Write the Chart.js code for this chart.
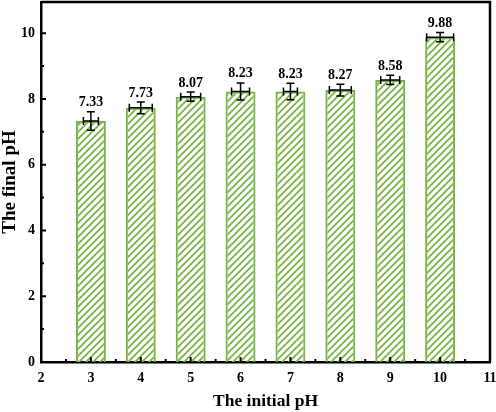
<!DOCTYPE html>
<html>
<head>
<meta charset="utf-8">
<script src="https://cdn.jsdelivr.net/npm/chart.js@4.4.1/dist/chart.umd.min.js"></script>
<style>
  html, body { margin: 0; padding: 0; background: #fff; }
</style>
</head>
<body>
<canvas id="chart" width="496" height="412"></canvas>
<script>
const initialPH = [3, 4, 5, 6, 7, 8, 9, 10];
const finalPH = [7.33, 7.73, 8.07, 8.23, 8.23, 8.27, 8.58, 9.88];
const finalErr = [0.28, 0.18, 0.14, 0.26, 0.25, 0.18, 0.14, 0.14];
const initialErr = [0.15, 0.23, 0.2, 0.18, 0.14, 0.22, 0.19, 0.27];
const xMajor = [3, 4, 5, 6, 7, 8, 9, 10];
const xMinor = [2.5, 3.5, 4.5, 5.5, 6.5, 7.5, 8.5, 9.5, 10.5];
const yMajor = [2, 4, 6, 8, 10];
const yMinor = [1, 3, 5, 7, 9];

const green = '#78b446';
const font = 'Liberation Serif';

// diagonal hatch fill for the bars
function hatch() {
  const c = document.createElement('canvas');
  c.width = 7; c.height = 7;
  const g = c.getContext('2d');
  g.strokeStyle = green;
  g.lineWidth = 1.8;
  g.beginPath();
  g.moveTo(0, 7); g.lineTo(7, 0);
  g.moveTo(-1, 1); g.lineTo(1, -1);
  g.moveTo(6, 8); g.lineTo(8, 6);
  g.stroke();
  return g.createPattern(c, 'repeat');
}

// frame, inward ticks, error bars and value labels
const extras = {
  id: 'extras',
  afterDatasetsDraw(chart) {
    const { ctx, chartArea: a, scales: { x, y } } = chart;
    ctx.save();
    ctx.strokeStyle = '#000';
    ctx.lineWidth = 1.5;
    ctx.fillStyle = '#000';
    ctx.font = 'bold 14px "' + font + '"';
    ctx.textAlign = 'center';
    ctx.textBaseline = 'bottom';
    initialPH.forEach((v, i) => {
      const cx = x.getPixelForValue(v);
      const cy = y.getPixelForValue(finalPH[i]);
      const top = y.getPixelForValue(finalPH[i] + finalErr[i]);
      const bot = y.getPixelForValue(finalPH[i] - finalErr[i]);
      const l = x.getPixelForValue(v - initialErr[i]);
      const r = x.getPixelForValue(v + initialErr[i]);
      ctx.beginPath();
      ctx.moveTo(cx, top); ctx.lineTo(cx, bot);
      ctx.moveTo(cx - 4, top); ctx.lineTo(cx + 4, top);
      ctx.moveTo(cx - 4, bot); ctx.lineTo(cx + 4, bot);
      ctx.moveTo(l, cy); ctx.lineTo(r, cy);
      ctx.moveTo(l, cy - 4); ctx.lineTo(l, cy + 4);
      ctx.moveTo(r, cy - 4); ctx.lineTo(r, cy + 4);
      ctx.stroke();
      ctx.fillText(finalPH[i].toFixed(2), cx, top - 2);
    });

    ctx.lineWidth = 2;
    ctx.beginPath();
    xMajor.forEach(v => { const p = x.getPixelForValue(v); ctx.moveTo(p, a.bottom); ctx.lineTo(p, a.bottom - 5); });
    xMinor.forEach(v => { const p = x.getPixelForValue(v); ctx.moveTo(p, a.bottom); ctx.lineTo(p, a.bottom - 3); });
    yMajor.forEach(v => { const p = y.getPixelForValue(v); ctx.moveTo(a.left, p); ctx.lineTo(a.left + 5, p); });
    yMinor.forEach(v => { const p = y.getPixelForValue(v); ctx.moveTo(a.left, p); ctx.lineTo(a.left + 3, p); });
    ctx.stroke();

    ctx.lineWidth = 2.5;
    ctx.beginPath();
    ctx.moveTo(a.left, a.top); ctx.lineTo(a.right, a.top); ctx.lineTo(a.right, a.bottom);
    ctx.stroke();
    ctx.restore();
  }
};

new Chart(document.getElementById('chart'), {
  type: 'bar',
  data: {
    datasets: [{
      data: initialPH.map((v, i) => ({ x: v, y: finalPH[i] })),
      backgroundColor: hatch(),
      borderColor: green,
      borderWidth: 2,
      categoryPercentage: 1,
      barPercentage: 0.6
    }]
  },
  options: {
    responsive: false,
    animation: false,
    layout: { padding: { top: 2, right: 6 } },
    plugins: { legend: { display: false }, tooltip: { enabled: false } },
    scales: {
      x: {
        type: 'linear',
        min: 2, max: 11,
        offset: false,
        grid: { display: false, drawTicks: false, offset: false },
        border: { display: true, color: '#000', width: 2.5 },
        ticks: { stepSize: 1, padding: 8, color: '#000', font: { family: font, size: 14, weight: 'bold' } },
        title: { display: true, text: 'The initial pH', color: '#000', padding: 0, font: { family: font, size: 17.5, weight: 'bold' } },
        afterFit: s => { s.height = 50; s.paddingLeft = 0; s.paddingRight = 0; }
      },
      y: {
        min: 0, max: 10.95,
        grid: { display: false, drawTicks: false },
        border: { display: true, color: '#000', width: 2.5 },
        ticks: { stepSize: 2, padding: 6, color: '#000', font: { family: font, size: 14, weight: 'bold' } },
        afterBuildTicks: s => { s.ticks = s.ticks.filter(t => t.value % 2 === 0); },
        title: { display: true, text: 'The final pH', color: '#000', padding: { top: -1, bottom: 0 }, font: { family: font, size: 19, weight: 'bold' } },
        afterFit: s => { s.width = 41; s.paddingTop = 0; s.paddingBottom = 0; }
      }
    }
  },
  plugins: [extras]
});
</script>
</body>
</html>
